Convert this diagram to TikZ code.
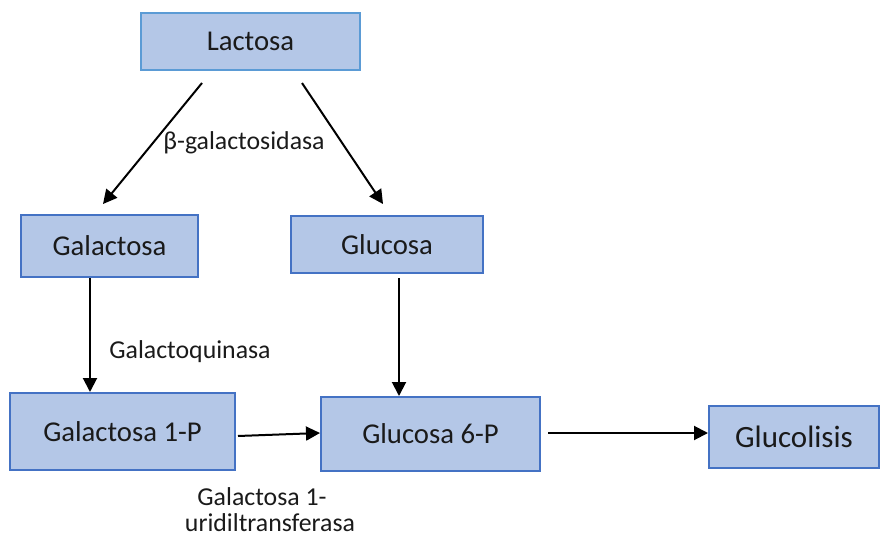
\documentclass[tikz,border=0pt]{standalone}
\usepackage{fontspec}
\setmainfont{Carlito}
\usetikzlibrary{arrows.meta}
\definecolor{boxfill}{HTML}{B4C7E7}
\definecolor{boxedge}{HTML}{4472C4}
\definecolor{topedge}{HTML}{5B9BD5}
\definecolor{ink}{HTML}{1A1A1A}
\tikzset{
  metab/.style={draw=boxedge, fill=boxfill, line width=2pt, inner sep=0pt,
    text=ink, font=\fontsize{28.7}{34}\selectfont},
  enzyme/.style={font=\fontsize{25.8}{26}\selectfont, text=ink, align=center, inner sep=0pt},
  arr/.style={line width=2pt, -{Triangle[length=14pt,width=14pt]}}
}
\begin{document}
\begin{tikzpicture}[x=1pt,y=-1pt]
\useasboundingbox (0,0) rectangle (881,538);
% metabolites
\node[metab, draw=topedge, minimum width=219pt, minimum height=57pt] (lac) at (250.5,41.5) {Lactosa};
\node[metab, minimum width=177pt, minimum height=62pt] (gal) at (109.5,246) {Galactosa};
\node[metab, minimum width=192pt, minimum height=57pt] (glu) at (387,244.5) {Glucosa};
\node[metab, minimum width=225pt, minimum height=77pt] (g1p) at (122.5,431.5) {Galactosa 1-P};
\node[metab, minimum width=219pt, minimum height=74pt] (g6p) at (430.5,434) {Glucosa 6-P};
\node[metab, minimum width=170pt, minimum height=62pt, font=\fontsize{31}{36}\selectfont] (gly) at (794,437) {Glucolisis};
% enzymes
\node[enzyme] (bgal) at (244,143) {β-galactosidasa};
\node[enzyme] (gk) at (190,352) {Galactoquinasa};
\node[enzyme] (galt) at (270,510) {Galactosa 1-\hspace*{16pt}\\uridiltransferasa};
% reactions
\draw[arr] ([xshift=-48.5pt,yshift=-12pt]lac.south) -- ([xshift=-6.5pt,yshift=10pt]gal.north);
\draw[arr] ([xshift=51.5pt,yshift=-12pt]lac.south) -- ([xshift=-4pt,yshift=11pt]glu.north);
\draw[arr] ([xshift=-19.5pt]gal.south) -- ([xshift=-32.5pt]g1p.north);
\draw[arr] ([xshift=12pt,yshift=-4pt]glu.south) -- ([xshift=-31.5pt]g6p.north);
\draw[arr] ([xshift=2pt,yshift=-4.5pt]g1p.east) -- ([yshift=1pt]g6p.west);
\draw[arr] ([xshift=7pt,yshift=1pt]g6p.east) -- ([yshift=4pt]gly.west);
\end{tikzpicture}
\end{document}
